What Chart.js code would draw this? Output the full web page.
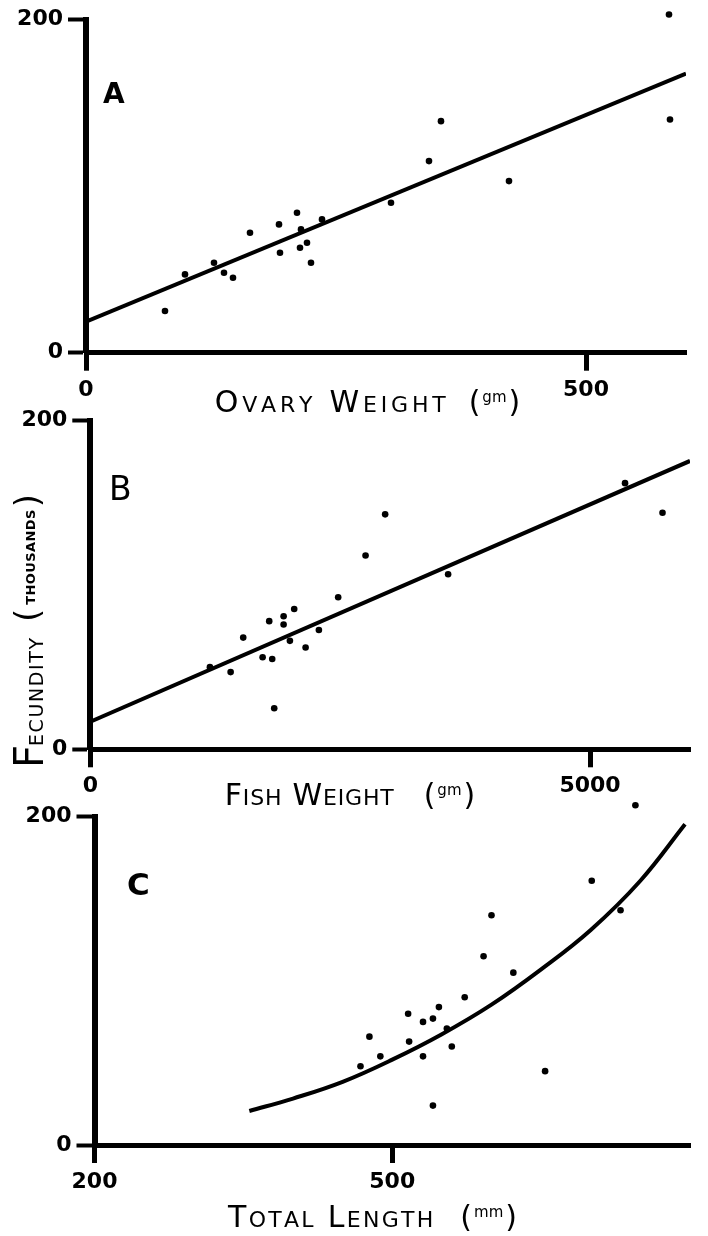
<!DOCTYPE html>
<html><head><meta charset="utf-8">
<script src="https://cdn.jsdelivr.net/npm/chart.js@4.4.1/dist/chart.umd.min.js"></script>
<style>
html,body{margin:0;padding:0;background:#fff;}
body{width:708px;height:1236px;position:relative;overflow:hidden;}
.panel{position:absolute;left:0;width:708px;}
</style></head><body>
<div class="panel" style="top:0;height:420px"><canvas id="cA"></canvas></div>
<div class="panel" style="top:400px;height:420px"><canvas id="cB"></canvas></div>
<div class="panel" style="top:795px;height:441px"><canvas id="cC"></canvas></div>
<script>
// ---- Panel A: fecundity (thousands) vs ovary weight (gm)
const ovaryWeightA = [583, 584, 355, 343, 423, 305, 211, 193, 164, 236, 215, 221, 214, 194, 225, 128, 138, 147, 99, 79];
const fecundityA   = [203, 140, 139, 115, 103, 90, 84, 77, 72, 80, 74, 66, 63, 60, 54, 54, 48, 45, 47, 25];
const fitAX = [0, 600];
const fitAY = [18.6, 167.6];
const xTicksA = [0, 500];
const yTicks = [0, 200];

// ---- Panel B: fecundity vs fish weight (gm)
const fishWeightB = [5350, 5725, 2950, 2754, 3580, 2480, 2040, 1934, 1790, 1934, 2287, 1530, 1997, 2154, 1724, 1820, 1197, 1404, 1840];
const fecundityB  = [162, 144, 143, 118, 106.5, 92.5, 85.4, 81, 78, 76, 72.6, 68, 66, 62, 56, 55, 50, 47, 25];
const fitBX = [0, 6000];
const fitBY = [16.8, 175.5];
const xTicksB = [0, 5000];

// ---- Panel C: fecundity vs total length (mm)
const totalLengthC = [701, 730, 600, 592, 622, 573, 547, 516, 541, 531, 555, 477, 517, 560, 488, 531, 468, 654, 541, 745];
const fecundityC   = [161, 143, 140, 115, 105, 90, 84, 80, 77, 75, 71, 66, 63, 60, 54, 54, 48, 45, 24, 207];
const curveCX = [356, 400, 450, 500, 550, 600, 650, 700, 750, 795];
const curveCY = [20.7, 28.3, 38.5, 52, 67.5, 85.5, 107, 131, 161, 195.4];
const xTicksC = [200, 500];

const FAM = '"DejaVu Sans"';
Chart.defaults.font.family = 'DejaVu Sans';
Chart.defaults.color = '#000';

const pts = (xs, ys) => xs.map((x, i) => ({x, y: ys[i]}));

function capsRuns(text, big, small) {
  return [...text].map(ch => {
    const lower = ch !== ch.toUpperCase();
    return {t: lower ? ch.toUpperCase() : ch, size: lower ? small : big, rise: 0};
  });
}
function measureRuns(ctx, runs, ls, weight) {
  let w = 0;
  runs.forEach((r, i) => {
    ctx.font = `${weight} ${r.size}px ${FAM}`;
    r.w = ctx.measureText(r.t).width;
    w += r.w + (i < runs.length - 1 ? ls : 0);
  });
  return w;
}
function drawAxisTitle(ctx, cx, base, word, unit, o) {
  ctx.save();
  ctx.fillStyle = '#000'; ctx.textBaseline = 'alphabetic'; ctx.textAlign = 'left';
  const runs = capsRuns(word, o.big, o.small);
  const w1 = measureRuns(ctx, runs, o.ls, 'normal');
  const uRuns = [{t: '(', size: o.big, rise: 0}, {t: unit, size: o.unitSize, rise: o.rise}, {t: ')', size: o.big, rise: 0}];
  const w2 = measureRuns(ctx, uRuns, 2, 'normal');
  let x = cx - (w1 + o.gap + w2) / 2;
  runs.forEach(r => { ctx.font = `normal ${r.size}px ${FAM}`; ctx.fillText(r.t, x, base); x += r.w + o.ls; });
  x += o.gap - o.ls;
  uRuns.forEach(r => { ctx.font = `normal ${r.size}px ${FAM}`; ctx.fillText(r.t, x, base - r.rise); x += r.w + 2; });
  ctx.restore();
}
function drawLetter(ctx, t, x, y, size, weight) {
  ctx.save();
  ctx.fillStyle = '#000'; ctx.textBaseline = 'alphabetic'; ctx.textAlign = 'left';
  ctx.font = `${weight} ${size}px ${FAM}`;
  ctx.fillText(t, x, y);
  ctx.restore();
}
function drawYTitle(ctx, px, py) {
  ctx.save();
  ctx.translate(px, py);
  ctx.rotate(-Math.PI / 2);
  ctx.fillStyle = '#000'; ctx.textBaseline = 'alphabetic'; ctx.textAlign = 'left';
  ctx.font = `normal 40px ${FAM}`;
  ctx.fillText('F', 0, 0);
  let x = 22;
  ctx.font = `normal 19px ${FAM}`;
  for (const ch of 'ECUNDITY') { ctx.fillText(ch, x, 0); x += ctx.measureText(ch).width + 1.6; }
  x = 146;
  ctx.font = `normal 34px ${FAM}`;
  ctx.fillText('(', x, -4);
  x += ctx.measureText('(').width + 4;
  ctx.font = `bold 13px ${FAM}`;
  for (const ch of 'THOUSANDS') { ctx.fillText(ch, x, -8); x += ctx.measureText(ch).width + 0.4; }
  x += 2;
  ctx.font = `normal 34px ${FAM}`;
  ctx.fillText(')', x, -4);
  ctx.restore();
}

function panel(id, cfg) {
  const tickFont = {family: 'DejaVu Sans', weight: 'bold', size: 22};
  return new Chart(document.getElementById(id), {
    type: 'scatter',
    data: {
      datasets: [
        {type: 'line', data: cfg.line, borderColor: '#000', borderWidth: 4, pointRadius: 0,
         fill: false, cubicInterpolationMode: 'default', tension: cfg.tension, order: 2},
        {type: 'scatter', data: cfg.points, backgroundColor: '#000', borderColor: '#000',
         pointRadius: 3.3, pointHoverRadius: 18, pointBorderWidth: 0, clip: false, order: 1}
      ]
    },
    options: {
      responsive: true, maintainAspectRatio: false, animation: false, events: [],
      layout: {padding: {left: 0, right: cfg.padR, top: cfg.padT, bottom: 0}},
      plugins: {legend: {display: false}, tooltip: {enabled: false}},
      scales: {
        x: {
          type: 'linear', min: cfg.xMin, max: cfg.xMax,
          afterFit: s => { s.height = cfg.xH; },
          ticks: {stepSize: cfg.xStep, autoSkip: false, maxRotation: 0, padding: 6, color: '#000', font: tickFont,
                  callback: v => cfg.xLabels.includes(v) ? String(v) : ''},
          grid: {drawOnChartArea: false, drawTicks: true, tickLength: 18, tickWidth: 5,
                 tickColor: c => (c.tick && cfg.xLabels.includes(c.tick.value)) ? '#000' : 'rgba(0,0,0,0)'},
          border: {display: true, color: '#000', width: 5}
        },
        y: {
          type: 'linear', min: 0, max: 200,
          afterFit: s => { s.width = cfg.yW; },
          ticks: {stepSize: 40, autoSkip: false, padding: 5, color: '#000', font: tickFont,
                  callback: v => yTicks.includes(v) ? String(v) : ''},
          grid: {drawOnChartArea: false, drawTicks: true, tickLength: 18, tickWidth: 4,
                 tickColor: c => (c.tick && yTicks.includes(c.tick.value)) ? '#000' : 'rgba(0,0,0,0)'},
          border: {display: true, color: '#000', width: 6}
        }
      }
    },
    plugins: [{id: 'txt' + id, afterDraw: ch => cfg.draw(ch.ctx, ch)}]
  });
}

const titleOpt = {big: 30, small: 22, unitSize: 15, rise: 10};

panel('cA', {
  points: pts(ovaryWeightA, fecundityA), line: pts(fitAX, fitAY), tension: 0,
  xMin: 0, xMax: 600, xStep: 100, xLabels: xTicksA,
  yW: 86, xH: 67.3, padR: 22, padT: 19.5,
  draw: ctx => {
    drawLetter(ctx, 'A', 103, 103, 28, 'bold');
    drawAxisTitle(ctx, 367.5, 412, 'Ovary Weight', 'gm', Object.assign({}, titleOpt, {ls: 3.8, gap: 23}));
  }
});
panel('cB', {
  points: pts(fishWeightB, fecundityB), line: pts(fitBX, fitBY), tension: 0,
  xMin: 0, xMax: 6000, xStep: 1000, xLabels: xTicksB,
  yW: 90.3, xH: 70.7, padR: 17.5, padT: 20.7,
  draw: ctx => {
    drawLetter(ctx, 'B', 109, 100, 33, 'normal');
    drawAxisTitle(ctx, 350, 405, 'Fish Weight', 'gm', Object.assign({}, titleOpt, {ls: 0.8, gap: 30}));
    drawYTitle(ctx, 43, 368);
  }
});
panel('cC', {
  points: pts(totalLengthC, fecundityC), line: pts(curveCX, curveCY), tension: 0.4,
  xMin: 200, xMax: 800, xStep: 100, xLabels: xTicksC,
  yW: 94.5, xH: 91, padR: 14, padT: 21.7,
  draw: ctx => {
    drawLetter(ctx, 'C', 127, 100, 31, 'bold');
    drawAxisTitle(ctx, 372.5, 432, 'Total Length', 'mm', Object.assign({}, titleOpt, {ls: 2.3, gap: 27}));
  }
});
</script>
</body></html>
